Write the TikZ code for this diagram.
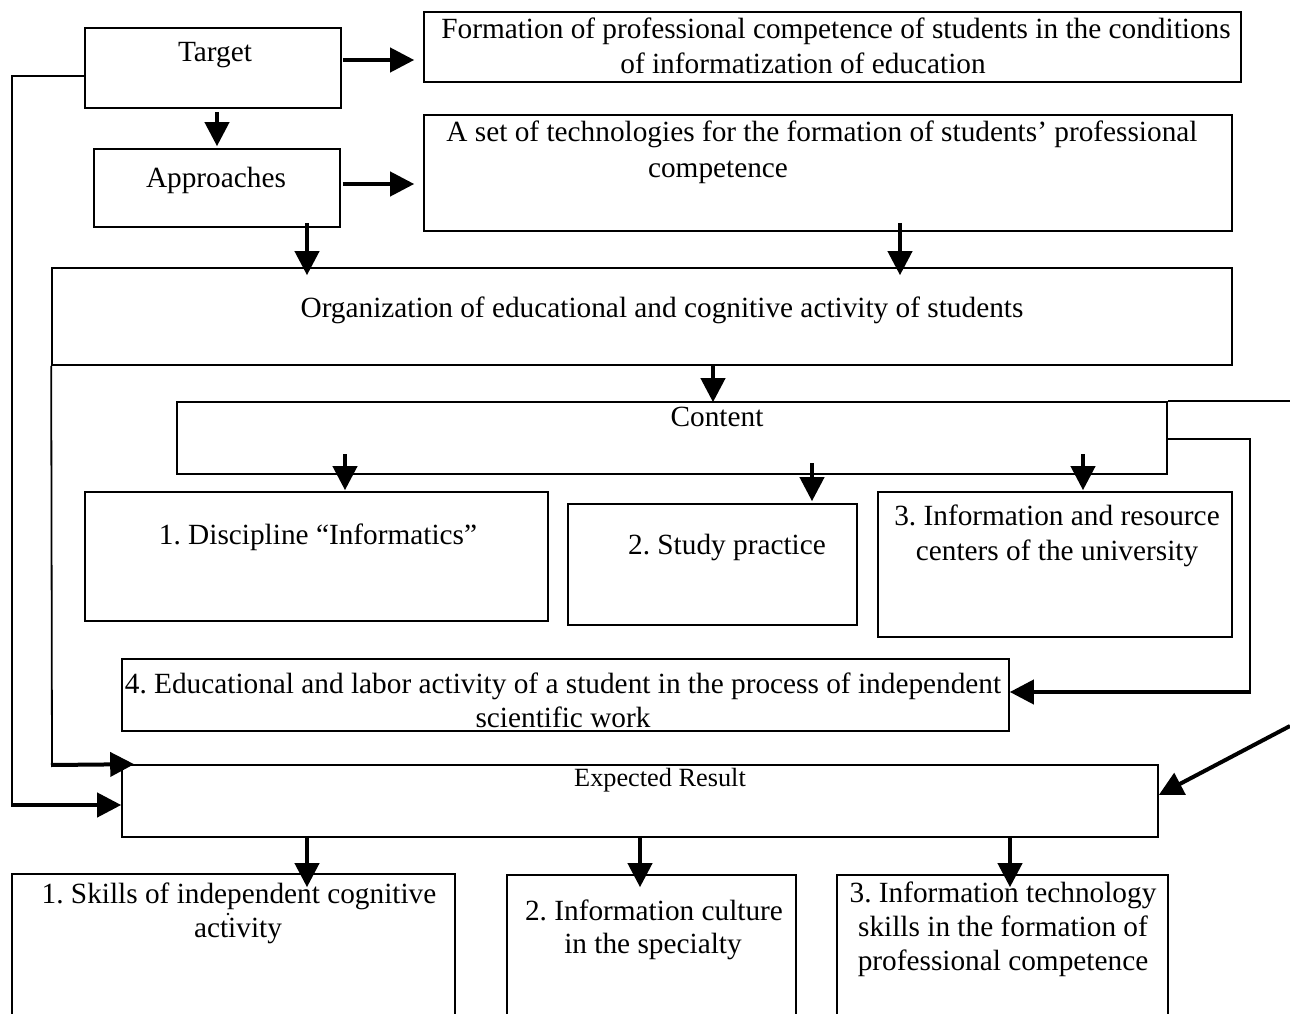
\documentclass[tikz,border=0pt]{standalone}
\usepackage{fontspec}
\setmainfont{Liberation Serif}
\usetikzlibrary{arrows.meta,calc,fit}
\frenchspacing
\begin{document}
\begin{tikzpicture}[x=1pt,y=-1pt,
  box/.style={draw, line width=1.6pt, inner sep=0pt},
  txt/.style={inner sep=0pt, anchor=base, font=\fontsize{29.3}{35}\selectfont},
  arr/.style={line width=4pt, -{Triangle[length=24pt,width=24pt]}},
  ln/.style={line width=1.8pt}]
\useasboundingbox (0,0) rectangle (1290,1014);
\clip (0,0) rectangle (1290,1014);
\fill[white] (0,0) rectangle (1290,1014);

% boxes
\node[box, fit={(85,28)(341,108)}] (target) {};
\node[box, fit={(94,149)(340,227)}] (appr) {};
\node[box, fit={(424,12)(1241,82)}] (form) {};
\node[box, fit={(424,115)(1232,231)}] (tech) {};
\node[box, fit={(52,268)(1232,365)}] (org) {};
\node[box, fit={(177,402)(1167,474)}] (cont) {};
\node[box, fit={(85,492)(548,621)}] (bx1) {};
\node[box, fit={(568,504)(857,625)}] (bx2) {};
\node[box, fit={(878,492)(1232,637)}] (bx3) {};
\node[box, fit={(122,659)(1009,731)}] (bx4) {};
\node[box, fit={(122,765)(1158,837)}] (exp) {};
\node[box, fit={(12,874)(455,1040)}] (res1) {};
\node[box, fit={(507,875)(796,1040)}] (res2) {};
\node[box, fit={(837,875)(1168,1040)}] (res3) {};

% texts
\node[txt] (tTarget) at (215,62) {Target};
\node[txt] (tAppr) at (216,187) {Approaches};
\node[txt] (tForm1) at (836,39) {Formation of professional competence of students in the conditions};
\node[txt] (tForm2) at (803,74) {of informatization of education};
\node[txt] (tTech1) at (822,142) {A set of technologies for the formation of students’ professional};
\node[txt] (tTech2) at (718,177) {competence};
\node[txt] (tOrg) at (662,317) {Organization of educational and cognitive activity of students};
\node[txt] (tCont) at (717,426) {Content};
\node[txt] (tB1) at (318,544) {1. Discipline “Informatics”};
\node[txt] (tB2) at (727,554) {2. Study practice};
\node[txt] (tB3a) at (1057,525) {3. Information and resource};
\node[txt] (tB3b) at (1057,560) {centers of the university};
\node[txt] (tB4a) at (563,693) {4. Educational and labor activity of a student in the process of independent};
\node[txt] (tB4b) at (563,727) {scientific work};
\node[txt, font=\fontsize{26.3}{30}\selectfont] (tExp) at (660,786) {Expected Result};
\node[txt] (tR1a) at (239,903) {1. Skills of independent cognitive};
\node[txt] (tR1b) at (238,937) {activity};
\fill (228,914) circle (1.3);
\node[txt] (tR2a) at (654,920) {2. Information culture};
\node[txt] (tR2b) at (653,953) {in the specialty};
\node[txt] (tR3a) at (1003,902) {3. Information technology};
\node[txt] (tR3b) at (1003,936) {skills in the formation of};
\node[txt] (tR3c) at (1003,970) {professional competence};

% helper coordinates
\coordinate (loopA) at (1250,439);
\coordinate (loopB) at (1250,692);
\coordinate (diag) at (1290,726);
\coordinate (orgDown) at (52,765);
\coordinate (tgtLeftTop) at (12,76);
\coordinate (tgtLeftBot) at (12,805);

% connectors
\draw[arr] ($(target.east)+(1,-8)$) -- ($(form.west|-target.east)+(-9,-8)$);
\draw[arr] ($(appr.north|-target.south)+(0,3)$) -- ($(appr.north)+(0,-2)$);
\draw[arr] ($(appr.east)+(2,-4)$) -- ($(tech.west|-appr.east)+(-9,-4)$);
\draw[arr] ($(appr.south)+(90,-5)$) -- ($(org.north-|appr.south)+(90,8)$);
\draw[arr] ($(tech.south)+(72,-9)$) -- ($(org.north-|tech.south)+(72,8)$);
\draw[arr] ($(org.south)+(71,0)$) -- ($(cont.north-|org.south)+(71,1)$);
\draw[arr] ($(bx1.north)+(28.5,-37)$) -- ($(bx1.north)+(28.5,-1)$);
\draw[arr] ($(bx2.north)+(99.5,-40)$) -- ($(bx2.north)+(99.5,-2)$);
\draw[arr] ($(bx3.north)+(28,-37)$) -- ($(bx3.north)+(28,-1)$);
\draw[ln] (cont.east|-loopA) -- (loopA) -- (loopB);
\draw[arr] ($(loopB)+(1,0)$) -- (bx4.east|-loopB);
\draw[ln] (cont.north east) -- (cont.north east-|diag);
\draw[arr] (diag) -- ($(exp.east)+(0,-6)$);
\draw[ln] (org.south west) -- (orgDown);
\draw[arr] ($(orgDown)+(-1,0)$) -- ($(exp.north west)+(13,0)$);
\draw[ln] ($(target.west)+(0,8)$) -- (tgtLeftTop) -- (tgtLeftBot);
\draw[arr] ($(tgtLeftBot)+(-1,0)$) -- (exp.west|-tgtLeftBot);
\draw[arr] ($(exp.south)+(-333,-2)$) -- ($(res1.north-|exp.south)+(-333,14)$);
\draw[arr] ($(exp.south)+(0,-2)$) -- ($(res2.north-|exp.south)+(0,13)$);
\draw[arr] ($(exp.south)+(370,-2)$) -- ($(res3.north-|exp.south)+(370,13)$);
\end{tikzpicture}
\end{document}
